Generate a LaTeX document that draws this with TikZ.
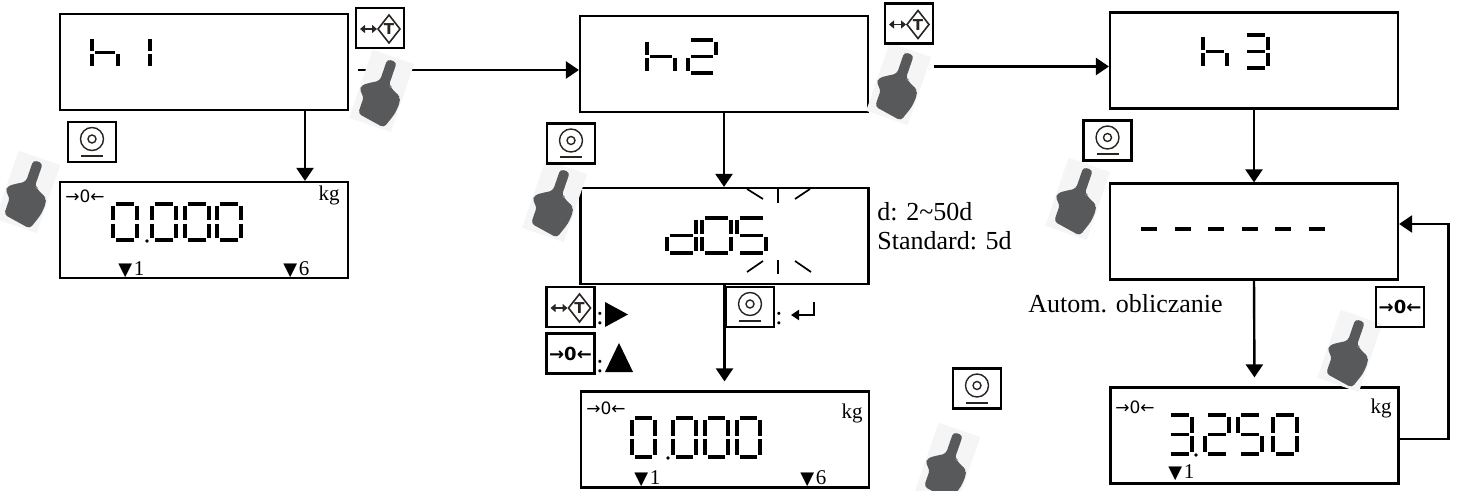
\documentclass[tikz,border=0pt]{standalone}
\usepackage{fontspec}
\setmainfont{Liberation Serif}
\newfontfamily\symfont{DejaVu Sans}
\usetikzlibrary{arrows.meta}

\definecolor{handgray}{RGB}{88,89,91}
\definecolor{handback}{RGB}{245,245,245}
\definecolor{keyink}{RGB}{40,36,34}

% segments of one LCD digit (1 wide, 2 high)
\newcommand\lcdsega{(0.12,2)--(0.88,2)}
\newcommand\lcdsegb{(1,1.9)--(1,1.1)}
\newcommand\lcdsegc{(1,0.9)--(1,0.1)}
\newcommand\lcdsegd{(0.12,0)--(0.88,0)}
\newcommand\lcdsege{(0,0.9)--(0,0.1)}
\newcommand\lcdsegf{(0,1.9)--(0,1.1)}
\newcommand\lcdsegg{(0.12,1)--(0.88,1)}

% characters as segment lists
\newcommand\lcdZero{a,b,c,d,e,f}
\newcommand\lcdOne{b,c}
\newcommand\lcdTwo{a,b,g,e,d}
\newcommand\lcdThree{a,b,g,c,d}
\newcommand\lcdFive{a,f,g,c,d}
\newcommand\lcdD{b,c,d,e,g}
\newcommand\lcdH{f,e,g,c}

% #1 lower left corner, #2 digit size, #3 offset/character list
\newcommand\lcdnum[3]{%
  \begin{scope}[shift={#1},#2]
    \foreach \dx/\dig in {#3} {
      \edef\seglist{\dig}
      \foreach \s in \seglist
        \draw[lcdseg,xshift=\dx*0.5pt] \csname lcdseg\s\endcsname;
    }
  \end{scope}}

\newcommand\weighmark[1]{{\symfont\fontsize{9}{9}\selectfont ▼}\kern0.8pt#1}

\tikzset{
  screen/.style={draw, line width=1.1pt, minimum width=144pt, minimum height=48pt, inner sep=0pt},
  key/.style={draw, line width=1.3pt, minimum width=24pt, minimum height=20pt, inner sep=0pt},
  zerokey/.style={key, font=\symfont\bfseries\fontsize{9}{9}\selectfont},
  flow/.style={line width=1.2pt, -{Triangle[length=6.5pt,width=8.5pt]}},
  lcdseg/.style={line width=1.6pt},
  ray/.style={line width=0.85pt},
  note/.style={inner sep=0pt, font=\fontsize{13}{15}\selectfont},
  unit/.style={inner sep=0pt, font=\fontsize{10.5}{12}\selectfont},
  zerosign/.style={inner sep=0pt, font=\symfont\fontsize{8.5}{9}\selectfont},
  pics/hand/.style={code={
    \fill[handback] (-22,-35) rectangle (22,37);
    \fill[handgray, rounded corners=1.8pt]
      (-5,-31) -- (-5,-8) -- (-12,-4) -- (-21,2) -- (-21,8) -- (-15,12)
      -- (-15,30) -- (14,35) -- (20,18) -- (21,6) -- (19,1) -- (16,-1)
      -- (13,-2) -- (10,-4) -- (7,-6) -- (5,-6) -- (5,-31) -- cycle;
  }},
  pics/tare glyph/.style={code={
    \draw[keyink, line width=0.8pt, {Triangle[length=2.5pt,width=4pt]}-{Triangle[length=2.5pt,width=4pt]}] (-20,1) -- (-3,1);
    \draw[keyink, line width=0.8pt] (-2,1) -- (9,-13) -- (20,1) -- (9,15) -- cycle;
    \node (T) [keyink, inner sep=0pt, font=\symfont\bfseries\fontsize{7.5}{7.5}\selectfont] at (9,1.5) {T};
  }},
  pics/print glyph/.style={code={
    \draw[keyink, line width=0.7pt] (0,-3) circle (5.75pt);
    \draw[keyink, line width=0.7pt] (0,-3) circle (2pt);
    \draw[keyink, line width=1pt] (-11,14) -- (11,14);
  }},
}

\begin{document}
\begin{tikzpicture}[x=0.5pt, y=-0.5pt]
\useasboundingbox (0,0) rectangle (1460,491);

% Screens
\node (h1) [screen] at (204,62) {};
\node (h2) [screen] at (724,64) {};
\node (h3) [screen] at (1254,60.5) {};
\node (zeroA) [screen] at (204,230) {};
\node (dos) [screen] at (724.5,236) {};
\node (zeroB) [screen] at (725,439.5) {};
\node (dash) [screen] at (1254,231.5) {};
\node (res) [screen] at (1254.5,435.5) {};

% Screen contents
\lcdnum{(92,67)}{x=13pt,y=7.25pt}{0/\lcdH,32/\lcdOne}
\lcdnum{(647,73)}{x=14pt,y=8.25pt}{0/\lcdH,41/\lcdTwo}
\lcdnum{(1203,68)}{x=12pt,y=8.25pt}{0/\lcdH,41/\lcdThree}
\lcdnum{(667,253)}{x=14.5pt,y=8.75pt}{0/\lcdD,35/\lcdZero,70/\lcdFive}
\lcdnum{(113,240)}{x=12pt,y=9pt}{0/\lcdZero,39/\lcdZero,72/\lcdZero,104/\lcdZero}
\lcdnum{(632,457)}{x=11.5pt,y=9.75pt}{0/\lcdZero,41/\lcdZero,73/\lcdZero,105/\lcdZero}
\lcdnum{(1168,454)}{x=12pt,y=9.75pt}{0/\lcdThree,37/\lcdTwo,70/\lcdFive,105/\lcdZero}
\fill (147,241) circle (0.9pt);
\fill (668,458) circle (0.9pt);
\fill (1196,455) circle (0.9pt);
\foreach \i in {0,...,5}
  \draw[lcdseg] ({1141+33.5*\i},229) -- ++(16,0);

% blinking marks
\draw[ray] (747,189) -- (763,199);
\draw[ray] (778,188) -- (778,203);
\draw[ray] (795,199) -- (810,189);
\draw[ray] (747,272) -- (763,261);
\draw[ray] (778,260) -- (778,274);
\draw[ray] (795,261) -- (811,272);

\node (zeroAsign) [zerosign, anchor=west] at (65,196) {→0←};
\node (zeroAkg) [unit, anchor=base east] at (340,201) {kg};
\node (zeroAone) [unit, anchor=base west] at (118,276) {\weighmark{1}};
\node (zeroAsix) [unit, anchor=base west] at (283,276) {\weighmark{6}};
\node (zeroBsign) [zerosign, anchor=west] at (586,408) {→0←};
\node (zeroBkg) [unit, anchor=base east] at (863,418) {kg};
\node (zeroBone) [unit, anchor=base west] at (634,484) {\weighmark{1}};
\node (zeroBsix) [unit, anchor=base west] at (800,484) {\weighmark{6}};
\node (ressign) [zerosign, anchor=west] at (1115,407) {→0←};
\node (reskg) [unit, anchor=base east] at (1392,413) {kg};
\node (resone) [unit, anchor=base west] at (1168,478) {\weighmark{1}};

% Notes
\node (rangeD) [note, anchor=base west] at (877,221) {d: 2\textasciitilde50d};
\node (rangeStd) [note, anchor=base west] at (877,250) {Standard: 5d};
\node (autoCalc) [note, anchor=base west] at (1028,313) {Autom. obliczanie};

% Arrows
\draw[flow] ([xshift=50.5pt]h1.south) -- ([xshift=50.5pt]zeroA.north);
\draw[flow, shorten <=4.5pt] ([yshift=-4pt]h1.east) -- ([yshift=-4pt]h1.east -| h2.west);
\draw[flow, shorten <=32.5pt] ([yshift=-1.25pt]h2.east) -- ([yshift=-1.25pt]h2.east -| h3.west);
\draw[flow] (h2.south) -- (h2.south |- dos.north);
\draw[flow, shorten >=4.5pt] (dos.south) -- (dos.south |- zeroB.north);
\draw[flow] (h3.south) -- (dash.north);
\draw[flow, shorten >=4.5pt] (dash.south) -- (res.north);
\draw[flow] ([yshift=-1.75pt]res.east) -- ++(24.5pt,0) |- ([yshift=3.75pt]dash.east);

% Hands
\pic[rotate=-19] (handA) at (382,90) {hand};
\pic[rotate=-19] (handB) at (28,191) {hand};
\pic[rotate=-19] (handC) at (899,83) {hand};
\pic[rotate=-19] (handD) at (555,200) {hand};
\pic[rotate=-19] (handE) at (1078,198) {hand};
\pic[rotate=-19] (handF) at (948,463) {hand};
\pic[rotate=-19] (handG) at (1350,350) {hand};

% Keys
\node (tareA) [key] at (380,28) {};
\pic (tareAglyph) at (tareA) {tare glyph};
\node (tareB) [key] at (909,23.5) {};
\pic (tareBglyph) at (tareB) {tare glyph};
\node (printA) [key] at (92,142) {};
\pic (printAglyph) at (printA) {print glyph};
\node (printB) [key] at (571,143.5) {};
\pic (printBglyph) at (printB) {print glyph};
\node (printC) [key] at (1107.5,140.5) {};
\pic (printCglyph) at (printC) {print glyph};
\node (printE) [key] at (977,388.5) {};
\pic (printEglyph) at (printE) {print glyph};
\node (zeroKey) [zerokey] at (1400,307) {→0←};

% Key legend
\node (tareL) [key] at (570.5,307) {};
\pic (tareLglyph) at (tareL) {tare glyph};
\node (colTare) [note, anchor=base west] at (596,325) {:};
\fill (605,302) -- (605,327) -- (628,314.5) -- cycle;
\node (zeroL) [zerokey] at (570.5,353.5) {→0←};
\node (colZero) [note, anchor=base west] at (596,372) {:};
\fill (605,372) -- (633,372) -- (619,343) -- cycle;
\node (printL) [key] at (750,307) {};
\pic (printLglyph) at (printL) {print glyph};
\node (colPrint) [note, anchor=base west] at (775,325) {:};
\draw[line width=0.9pt, -{Triangle[length=4pt,width=5pt]}] (814,302) -- (814,315) -- (791,315);

\end{tikzpicture}
\end{document}
